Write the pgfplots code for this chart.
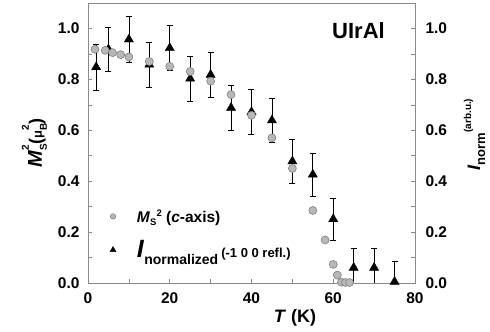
\documentclass[border=0pt]{standalone}
\usepackage{fontspec}
\setmainfont{Liberation Sans}
\usepackage{pgfplots}
\pgfplotsset{compat=1.18}
\definecolor{circfill}{HTML}{B8B8B8}
\definecolor{circdraw}{HTML}{808080}
\definecolor{axgray}{HTML}{8A8A8A}
\pgfplotsset{
  trilegend/.style={legend image code/.code={\draw[##1, mark size=3.4pt] plot coordinates {(0pt,0pt)};}},
  circlegend/.style={legend image code/.code={\draw[##1, mark size=2.7pt] plot coordinates {(0pt,0pt)};}},
}
\begin{document}
\begin{tikzpicture}
\useasboundingbox (-88pt,-49pt) rectangle (402pt,283pt);
\begin{axis}[
  at={(0pt,0pt)}, anchor=south west, scale only axis,
  width=327pt, height=280pt,
  xmin=0, xmax=80, ymin=0, ymax=1.1,
  xtick={0,20,40,60,80}, minor xtick={10,30,50,70},
  ytick={0,0.2,0.4,0.6,0.8,1.0}, minor ytick={0.1,0.3,0.5,0.7,0.9},
  xtick pos=bottom, ytick pos=left, tick align=inside,
  major tick length=4pt, minor tick length=4pt,
  axis line style={axgray, line width=0.6pt},
  every tick/.style={axgray, line width=0.6pt},
  /pgf/number format/assume math mode=true,
  ticklabel style={font=\fontsize{15.5}{15.5}\selectfont\bfseries},
  xticklabel style={yshift=-6pt},
  yticklabel style={xshift=-5pt, /pgf/number format/.cd, fixed, fixed zerofill, precision=1},
  xlabel={\textit{T} (K)},
  xlabel style={font=\fontsize{18}{18}\selectfont\bfseries, at={(axis description cs:0.633,0)}, anchor=base, yshift=-39pt},
  ylabel={\textit{M}\rlap{\raisebox{-5pt}{\fontsize{10}{10}\selectfont S}}\raisebox{13pt}{\fontsize{10}{10}\selectfont 2}{\fontsize{18}{18}\selectfont(}{\fontsize{13}{13}\selectfont μ}\rlap{\raisebox{-5pt}{\fontsize{10}{10}\selectfont B}}\raisebox{13pt}{\fontsize{10}{10}\selectfont 2}{\fontsize{18}{18}\selectfont)}},
  ylabel style={font=\fontsize{20}{20}\selectfont\bfseries, at={(axis description cs:-0.1407,0.5)}, anchor=base},
  legend style={at={(axis description cs:0.067,0.077)}, anchor=south west, draw=none, fill=none, row sep=13pt, inner sep=0pt,
    /tikz/every odd column/.append style={column sep=19pt}},
  legend cell align=left,
  reverse legend,
]
\addplot[only marks, mark=triangle*, mark size=5.3pt, black, trilegend,
  error bars/.cd, y dir=both, y explicit,
  error bar style={black, line width=0.7pt},
  error mark options={rotate=90, mark size=3pt, black, line width=0.7pt},
  ] coordinates {
  (2,0.848) +- (0,0.09)
  (5,0.918) +- (0,0.088)
  (10,0.957) +- (0,0.09)
  (15,0.858) +- (0,0.089)
  (20,0.923) +- (0,0.089)
  (25,0.803) +- (0,0.088)
  (30,0.818) +- (0,0.09)
  (35,0.688) +- (0,0.088)
  (40,0.672) +- (0,0.088)
  (45,0.639) +- (0,0.088)
  (50,0.478) +- (0,0.085)
  (55,0.426) +- (0,0.085)
  (60,0.251) +- (0,0.083)
  (65,0.060) +- (0,0.078)
  (70,0.060) +- (0,0.076)
  (75,0.005) +- (0,0.079)
};
\addlegendentry{\fontsize{25}{25}\selectfont\bfseries\textit{I}\raisebox{-7pt}{\fontsize{14}{14}\selectfont normalized}\hspace{3pt}{\fontsize{13}{13}\selectfont(-1 0 0 refl.)}}
\addplot[only marks, mark=*, mark size=4pt, draw=circdraw, fill=circfill, mark options={line width=0.6pt}, circlegend] coordinates {
  (1.7,0.918) (4.2,0.914) (6.0,0.905) (8.0,0.897) (10.0,0.888)
  (15,0.870) (20,0.851) (25,0.831) (30,0.793) (35,0.740)
  (40,0.659) (45,0.570) (50,0.450) (55,0.285) (58,0.169)
  (60,0.073) (61,0.031) (62,0.003) (63,0.002) (64,0.002)
};
\addlegendentry{\fontsize{15.5}{15.5}\selectfont\bfseries\textit{M}\raisebox{-3pt}{\fontsize{9.5}{9.5}\selectfont S}\raisebox{6pt}{\fontsize{9.5}{9.5}\selectfont 2} (\textit{c}-axis)}
\node[font=\fontsize{22}{22}\selectfont\bfseries, anchor=base east, inner sep=0pt] at (axis description cs:1,1) [xshift=-30pt, yshift=-36pt] {UIrAl};
\end{axis}
\begin{axis}[
  at={(0pt,0pt)}, anchor=south west, scale only axis,
  width=327pt, height=280pt,
  xmin=0, xmax=80, ymin=0, ymax=1.1,
  axis x line=none, axis y line*=right,
  ytick={0,0.2,0.4,0.6,0.8,1.0}, minor ytick={0.1,0.3,0.5,0.7,0.9},
  tick align=inside,
  major tick length=4pt, minor tick length=4pt,
  axis line style={axgray, line width=0.6pt, -},
  every tick/.style={axgray, line width=0.6pt},
  /pgf/number format/assume math mode=true,
  ticklabel style={font=\fontsize{15.5}{15.5}\selectfont\bfseries},
  yticklabel style={xshift=7pt, /pgf/number format/.cd, fixed, fixed zerofill, precision=1},
  ylabel={\textit{I}\raisebox{-5pt}{\fontsize{13}{13}\selectfont norm}\raisebox{9pt}{\fontsize{10}{10}\selectfont(arb.u.)}},
  ylabel style={font=\fontsize{18}{18}\selectfont\bfseries, at={(axis description cs:1.199,0.53)}, anchor=base},
]
\end{axis}
\end{tikzpicture}
\end{document}
